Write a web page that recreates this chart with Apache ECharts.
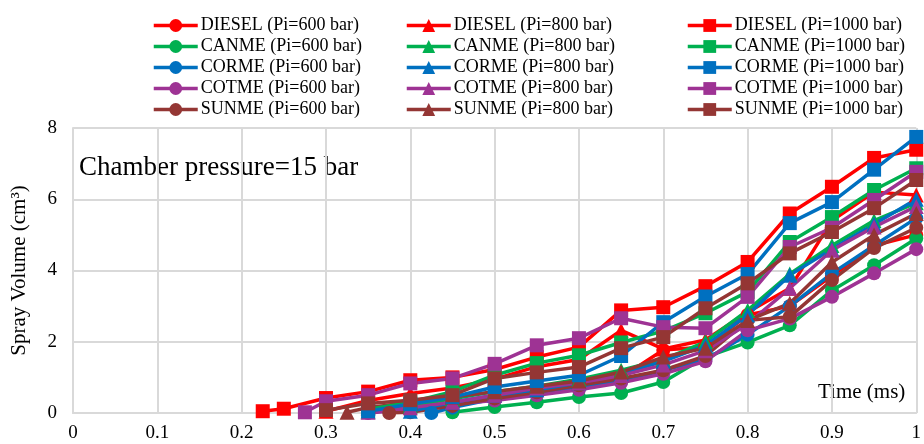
<!DOCTYPE html>
<html>
<head>
<meta charset="utf-8">
<script src="https://cdn.jsdelivr.net/npm/echarts@6/dist/echarts.min.js"></script>
<style>
  html, body { margin: 0; padding: 0; background: #fff; }
  #chart { width: 924px; height: 444px; }
</style>
</head>
<body>
<div id="chart"></div>
<script>
// [time (ms), spray volume (cm3)]
const diesel600 = [[0.35,0.02],[0.4,0.12],[0.45,0.3],[0.5,0.45],[0.55,0.6],[0.6,0.8],[0.65,1.0],[0.7,1.77],[0.75,1.85],[0.8,2.75],[0.85,3.0],[0.9,3.85],[0.95,4.7],[1.0,5.0]];
const canme600 = [[0.45,0.02],[0.5,0.17],[0.55,0.3],[0.6,0.45],[0.65,0.56],[0.7,0.87],[0.75,1.57],[0.8,1.98],[0.85,2.46],[0.9,3.44],[0.95,4.15],[1.0,4.9]];
const corme600 = [[0.425,0.0],[0.45,0.15],[0.5,0.4],[0.55,0.55],[0.6,0.7],[0.65,0.9],[0.7,1.2],[0.75,1.5],[0.8,2.2],[0.85,3.0],[0.9,3.92],[0.95,4.7],[1.0,5.47]];
const cotme600 = [[0.35,0.0],[0.4,0.1],[0.45,0.25],[0.5,0.35],[0.55,0.5],[0.6,0.65],[0.65,0.85],[0.7,1.1],[0.75,1.45],[0.8,2.32],[0.85,2.65],[0.9,3.26],[0.95,3.92],[1.0,4.6]];
const sunme600 = [[0.375,0.0],[0.4,0.02],[0.45,0.2],[0.5,0.41],[0.55,0.58],[0.6,0.78],[0.65,0.97],[0.7,1.2],[0.75,1.6],[0.8,2.6],[0.85,2.7],[0.9,3.73],[0.95,4.63],[1.0,5.2]];

const diesel800 = [[0.3,0.05],[0.35,0.35],[0.4,0.55],[0.45,0.7],[0.5,0.95],[0.55,1.3],[0.6,1.5],[0.65,2.32],[0.7,1.8],[0.75,2.05],[0.8,2.83],[0.85,3.5],[0.9,5.4],[0.95,6.2],[1.0,6.12]];
const canme800 = [[0.35,0.05],[0.4,0.2],[0.45,0.4],[0.5,0.6],[0.55,0.75],[0.6,0.95],[0.65,1.2],[0.7,1.5],[0.75,2.0],[0.8,2.88],[0.85,3.9],[0.9,4.7],[0.95,5.4],[1.0,5.9]];
const corme800 = [[0.4,0.05],[0.45,0.3],[0.5,0.5],[0.55,0.65],[0.6,0.85],[0.65,1.1],[0.7,1.45],[0.75,1.9],[0.8,2.75],[0.85,3.87],[0.9,4.6],[0.95,5.3],[1.0,6.0]];
const cotme800 = [[0.35,0.02],[0.4,0.15],[0.45,0.3],[0.5,0.5],[0.55,0.7],[0.6,0.85],[0.65,1.05],[0.7,1.35],[0.75,1.75],[0.8,2.5],[0.85,3.5],[0.9,4.57],[0.95,5.22],[1.0,5.8]];
const sunme800 = [[0.325,0.02],[0.35,0.15],[0.4,0.3],[0.45,0.45],[0.5,0.6],[0.55,0.75],[0.6,0.9],[0.65,1.15],[0.7,1.57],[0.75,1.82],[0.8,2.6],[0.85,3.08],[0.9,4.23],[0.95,5.0],[1.0,5.6]];

const diesel1000 = [[0.225,0.05],[0.25,0.12],[0.3,0.42],[0.35,0.6],[0.4,0.92],[0.45,1.0],[0.5,1.22],[0.55,1.57],[0.6,1.85],[0.65,2.88],[0.7,2.97],[0.75,3.56],[0.8,4.24],[0.85,5.6],[0.9,6.35],[0.95,7.16],[1.0,7.39]];
const canme1000 = [[0.35,0.1],[0.4,0.3],[0.45,0.6],[0.5,1.06],[0.55,1.4],[0.6,1.62],[0.65,1.98],[0.7,2.3],[0.75,2.8],[0.8,3.4],[0.85,4.8],[0.9,5.5],[0.95,6.26],[1.0,6.87]];
const corme1000 = [[0.35,0.05],[0.4,0.25],[0.45,0.45],[0.5,0.73],[0.55,0.9],[0.6,1.06],[0.65,1.6],[0.7,2.55],[0.75,3.27],[0.8,3.9],[0.85,5.33],[0.9,5.92],[0.95,6.83],[1.0,7.75]];
const cotme1000 = [[0.275,0.02],[0.3,0.33],[0.35,0.5],[0.4,0.83],[0.45,0.97],[0.5,1.38],[0.55,1.9],[0.6,2.1],[0.65,2.66],[0.7,2.41],[0.75,2.38],[0.8,3.26],[0.85,4.66],[0.9,5.2],[0.95,5.98],[1.0,6.77]];
const sunme1000 = [[0.3,0.08],[0.35,0.27],[0.4,0.36],[0.45,0.5],[0.5,0.97],[0.55,1.14],[0.6,1.29],[0.65,1.82],[0.7,2.13],[0.75,2.94],[0.8,3.64],[0.85,4.48],[0.9,5.08],[0.95,5.75],[1.0,6.54]];

const fuels = ['DIESEL', 'CANME', 'CORME', 'COTME', 'SUNME'];
const fuelColors = ['#FF0000', '#00B050', '#0070C0', '#9E3394', '#943634'];
const pressures = [600, 800, 1000];
const pressureSymbols = ['circle', 'triangle', 'rect'];
const seriesData = [
  [diesel600, canme600, corme600, cotme600, sunme600],
  [diesel800, canme800, corme800, cotme800, sunme800],
  [diesel1000, canme1000, corme1000, cotme1000, sunme1000]
];

const font = 'Liberation Serif, Times New Roman, serif';
const gridColor = '#d9d9d9';

const series = [];
const legends = [];
const legendLeft = [152, 405, 686];

pressures.forEach((p, pi) => {
  const names = [];
  fuels.forEach((f, fi) => {
    const name = f + ' (Pi=' + p + ' bar)';
    names.push(name);
    series.push({
      name: name,
      type: 'line',
      data: seriesData[pi][fi],
      symbol: pressureSymbols[pi],
      symbolSize: pi === 1 ? 15 : 14,
      color: fuelColors[fi],
      lineStyle: { width: 3.5, color: fuelColors[fi] },
      itemStyle: { color: fuelColors[fi] },
      animation: false
    });
  });
  legends.push({
    data: names,
    orient: 'vertical',
    left: legendLeft[pi],
    top: 16,
    padding: 0,
    itemWidth: 44,
    itemHeight: 16,
    itemGap: 2,
    lineStyle: { width: 3.5 },
    textStyle: { fontFamily: font, fontSize: 18, color: '#000', lineHeight: 19, padding: [0, 0, 0, -2] }
  });
});

const chart = echarts.init(document.getElementById('chart'));
chart.setOption({
  backgroundColor: '#fff',
  legend: legends,
  grid: { left: 73, right: 0, top: 128, bottom: 31 },
  xAxis: {
    type: 'value',
    min: 0,
    max: 1,
    interval: 0.1,
    axisLine: { lineStyle: { color: gridColor, width: 2 } },
    axisTick: { show: false },
    splitLine: { lineStyle: { color: gridColor, width: 2 } },
    axisLabel: {
      fontFamily: font, fontSize: 19, color: '#000', margin: 11,
      formatter: v => String(Math.round(v * 10) / 10)
    }
  },
  yAxis: {
    type: 'value',
    min: 0,
    max: 8,
    interval: 2,
    name: 'Spray Volume (cm³)',
    nameLocation: 'middle',
    nameGap: 43,
    nameTextStyle: { fontFamily: font, fontSize: 21, color: '#000' },
    axisLine: { show: true, lineStyle: { color: gridColor, width: 2 } },
    axisTick: { show: false },
    splitLine: { lineStyle: { color: gridColor, width: 2 } },
    axisLabel: { fontFamily: font, fontSize: 19, color: '#000', margin: 16 }
  },
  graphic: [
    {
      type: 'text', left: 79, top: 154,
      style: { text: 'Chamber pressure=15 bar', font: '27px ' + font, fill: '#000' }
    },
    {
      type: 'text', left: 818, top: 382,
      style: { text: 'Time (ms)', font: '21px ' + font, fill: '#000' }
    }
  ],
  series: series
});
</script>
</body>
</html>
